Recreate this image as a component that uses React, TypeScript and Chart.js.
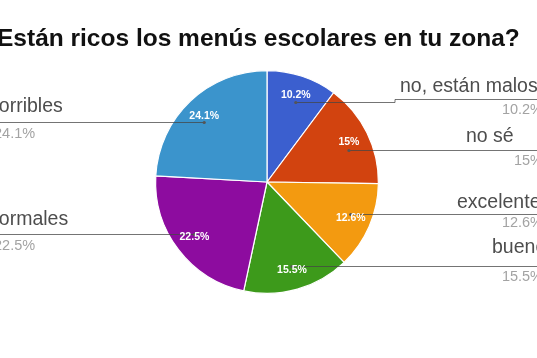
import React, { useEffect, useRef } from "react";
import { Chart, registerables } from "chart.js";
Chart.register(...registerables);

const TITLE = "¿Están ricos los menús escolares en tu zona?";
const CATEGORIES = ["no, están malos", "no sé", "excelentes", "buenos", "normales", "horribles"];
const VALUES = [10.2, 15, 12.6, 15.5, 22.5, 24.1];
const VALUE_LABELS = ["10.2%", "15%", "12.6%", "15.5%", "22.5%", "24.1%"];
const COLORS = ["#3b5fcf", "#d2430f", "#f39a10", "#3d9a1b", "#8d0c9f", "#3b94cc"];

// label layout (legend "labeled" style)
const SIDE = ["right", "right", "right", "right", "left", "left"];
const LINE_Y = [102, 150, 214, 266, 234, 122];
const TEXT_Y = [87, 137, 203, 248, 220, 107];
const VALUE_Y = [110, 161, 223, 277, 246, 134];
const TEXT_X = [400, 466, 457, 492, -12, -12];
const BEND: (number[] | null)[] = [[395, 99], null, null, null, null, null];

const FONT = "'Liberation Sans', Arial, sans-serif";

const labelPlugin = {
  id: "labeledLegend",
  afterDraw(chart: any) {
    const ctx: CanvasRenderingContext2D = chart.ctx;
    const meta = chart.getDatasetMeta(0);
    ctx.save();
    // title
    ctx.font = `bold 24.5px ${FONT}`;
    ctx.fillStyle = "#111";
    ctx.textAlign = "left";
    ctx.textBaseline = "alphabetic";
    const q = ctx.measureText("¿").width;
    ctx.fillText(TITLE, -3 - q, 46);

    const W = chart.width;
    const anchors: number[][] = [];
    meta.data.forEach((arc: any) => {
      const p = arc.getProps(["x", "y", "startAngle", "endAngle", "outerRadius"], true);
      const mid = (p.startAngle + p.endAngle) / 2;
      const d = p.outerRadius * 0.82;
      anchors.push([p.x + Math.cos(mid) * d, p.y + Math.sin(mid) * d]);
    });

    // leader lines
    ctx.strokeStyle = "rgba(70,70,70,0.75)";
    ctx.lineWidth = 1;
    anchors.forEach((a, i) => {
      const ly = LINE_Y[i] + 0.5;
      ctx.beginPath();
      if (SIDE[i] === "right") {
        ctx.moveTo(a[0], ly);
        const b = BEND[i];
        if (b) {
          ctx.lineTo(b[0], ly);
          ctx.lineTo(b[0], b[1] + 0.5);
          ctx.lineTo(W + 20, b[1] + 0.5);
        } else {
          ctx.lineTo(W + 20, ly);
        }
      } else {
        ctx.moveTo(a[0], ly);
        ctx.lineTo(-20, ly);
      }
      ctx.stroke();
      ctx.fillStyle = "#555";
      ctx.beginPath();
      ctx.arc(a[0], LINE_Y[i] + 0.5, 1.6, 0, Math.PI * 2);
      ctx.fill();
    });

    // inside percentage labels
    ctx.font = `bold 10.5px ${FONT}`;
    ctx.fillStyle = "#ffffff";
    ctx.textAlign = "center";
    ctx.textBaseline = "middle";
    anchors.forEach((a, i) => {
      ctx.fillText(VALUE_LABELS[i], a[0], a[1]);
    });

    // side labels
    CATEGORIES.forEach((c, i) => {
      ctx.textBaseline = "middle";
      ctx.font = `19.5px ${FONT}`;
      ctx.fillStyle = "#4d4d4d";
      ctx.textAlign = "left";
      ctx.fillText(c, TEXT_X[i], TEXT_Y[i]);
      ctx.font = `14.5px ${FONT}`;
      ctx.fillStyle = "#a3a3a3";
      if (SIDE[i] === "right") {
        ctx.textAlign = "right";
        ctx.fillText(VALUE_LABELS[i], 543, VALUE_Y[i]);
      } else {
        ctx.textAlign = "left";
        ctx.fillText(VALUE_LABELS[i], -6, VALUE_Y[i]);
      }
    });
    ctx.restore();
  },
};

export default function App() {
  const ref = useRef<HTMLCanvasElement | null>(null);
  useEffect(() => {
    if (!ref.current) return;
    const chart = new Chart(ref.current, {
      type: "pie",
      data: {
        labels: CATEGORIES,
        datasets: [
          {
            data: VALUES,
            backgroundColor: COLORS,
            borderColor: "#ffffff",
            borderWidth: 1.2,
          },
        ],
      },
      options: {
        responsive: false,
        animation: false,
        devicePixelRatio: 1,
        layout: { padding: { left: 155, right: 158, top: 70, bottom: 64 } },
        plugins: {
          legend: { display: false },
          tooltip: { enabled: false },
          title: { display: false },
        },
      },
      plugins: [labelPlugin],
    });
    return () => chart.destroy();
  }, []);
  return (
    <div style={{ position: "absolute", left: 0, top: 0, width: 537, height: 358, background: "#fff" }}>
      <canvas ref={ref} width={537} height={358} style={{ display: "block" }} />
    </div>
  );
}
